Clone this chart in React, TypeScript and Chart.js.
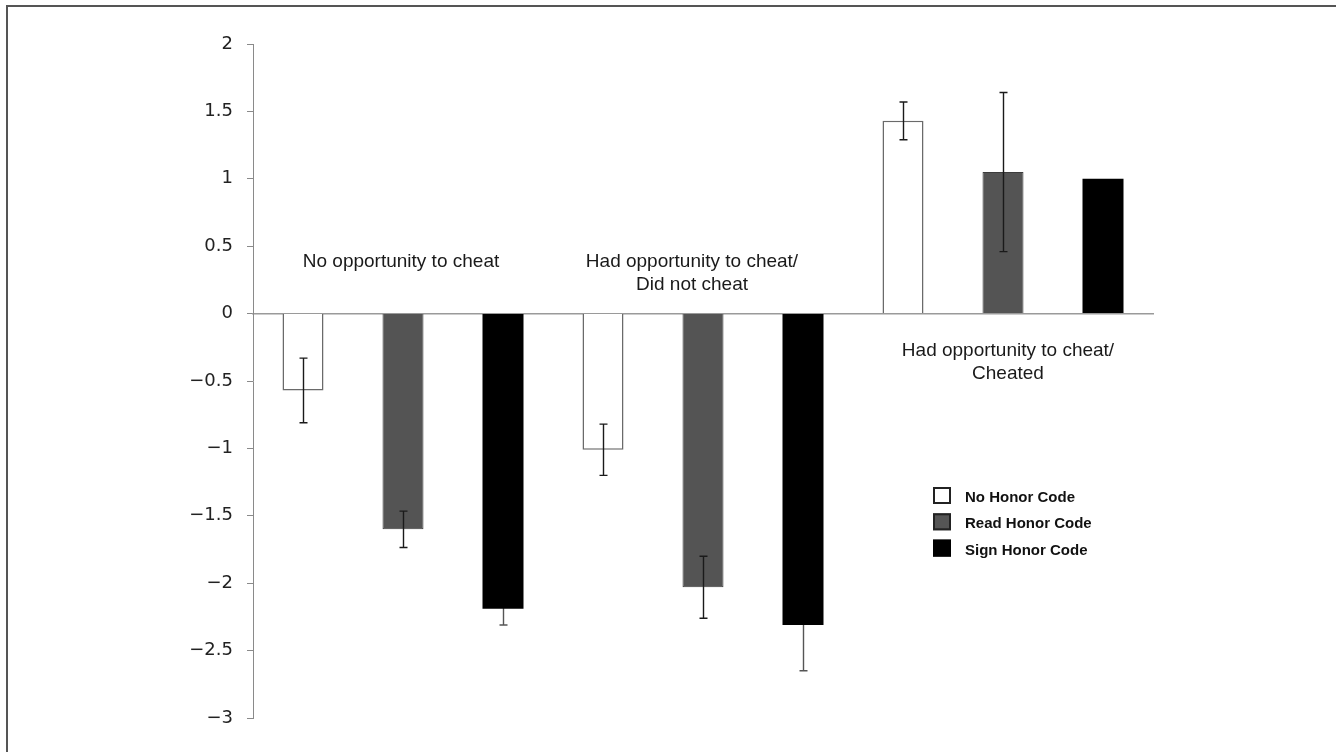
import React, { useEffect, useRef } from "react";
import { Chart, registerables } from "chart.js";

Chart.register(...registerables);

// ---- data ----
const groupLabels: string[][] = [
  ["No opportunity to cheat"],
  ["Had opportunity to cheat/", "Did not cheat"],
  ["Had opportunity to cheat/", "Cheated"],
];
const conditions = ["No Honor Code", "Read Honor Code", "Sign Honor Code"];

const noHonorMeans = [-0.57, -1.01, 1.43];
const readHonorMeans = [-1.6, -2.03, 1.05];
const signHonorMeans = [-2.19, -2.31, 1.0];

const noHonorErr: (number | null)[] = [0.24, 0.19, 0.14];
const readHonorErr: (number | null)[] = [0.135, 0.23, 0.59];
const signHonorErr: (number | null)[] = [0.12, 0.34, null];

const yMin = -3;
const yMax = 2;
const yStep = 0.5;

// ---- styles ----
const barStyles = [
  { backgroundColor: "#ffffff", borderColor: "#6a6a6a", borderWidth: 1.5 },
  { backgroundColor: "#545454", borderColor: "#3c3c3c", borderWidth: 1 },
  { backgroundColor: "#000000", borderColor: "#000000", borderWidth: 0 },
];
// error bars: drawn on top of bars, except for the black series (behind)
const errorStyles = [
  { color: "#1a1a1a", behind: false },
  { color: "#1a1a1a", behind: false },
  { color: "#555555", behind: true },
];
const legendStyles = [
  { fill: "#ffffff", stroke: "#222222" },
  { fill: "#555555", stroke: "#222222" },
  { fill: "#000000", stroke: "#000000" },
];

const means = [noHonorMeans, readHonorMeans, signHonorMeans];
const errs = [noHonorErr, readHonorErr, signHonorErr];

// 9 slots: group g, condition c -> index g*3+c
const categories: string[] = [];
groupLabels.forEach((g) => conditions.forEach((c) => categories.push(g.join(" ") + " – " + c)));

const datasets = conditions.map((label, c) => ({
  label,
  data: categories.map((_, i) => (i % 3 === c ? means[c][Math.floor(i / 3)] : null)),
  errors: categories.map((_, i) => (i % 3 === c ? errs[c][Math.floor(i / 3)] : null)),
  ...barStyles[c],
  grouped: false,
  barPercentage: 0.41,
  categoryPercentage: 1,
}));

function drawErrors(chart: any, behind: boolean) {
  const ctx = chart.ctx;
  const y = chart.scales.y;
  ctx.save();
  ctx.lineWidth = 1.4;
  chart.data.datasets.forEach((ds: any, di: number) => {
    const st = errorStyles[di];
    if (st.behind !== behind) return;
    ctx.strokeStyle = st.color;
    const meta = chart.getDatasetMeta(di);
    ds.data.forEach((v: number | null, i: number) => {
      const e = ds.errors[i];
      if (v == null || e == null) return;
      const el = meta.data[i];
      const x = Math.round(el.x) + 0.5;
      const yt = y.getPixelForValue(v + e);
      const yb = y.getPixelForValue(v - e);
      ctx.beginPath();
      ctx.moveTo(x, yt);
      ctx.lineTo(x, yb);
      ctx.moveTo(x - 4, yt);
      ctx.lineTo(x + 4, yt);
      ctx.moveTo(x - 4, yb);
      ctx.lineTo(x + 4, yb);
      ctx.stroke();
    });
  });
  ctx.restore();
}

const errorBarPlugin = {
  id: "errorBars",
  beforeDatasetsDraw(chart: any) {
    drawErrors(chart, true);
  },
  afterDatasetsDraw(chart: any) {
    drawErrors(chart, false);
  },
};

// group captions, anchored in data coordinates (category index, y value)
const captionAnchors = [
  { x: 0.98, y: 0.346 },
  { x: 3.89, y: 0.346 },
  { x: 7.05, y: -0.316 },
];

const captionPlugin = {
  id: "captions",
  afterDatasetsDraw(chart: any) {
    const ctx = chart.ctx;
    const xs = chart.scales.x;
    const ys = chart.scales.y;
    ctx.save();
    ctx.fillStyle = "#1a1a1a";
    ctx.font = '19px "Liberation Sans", Arial, sans-serif';
    ctx.textAlign = "center";
    ctx.textBaseline = "alphabetic";
    groupLabels.forEach((lines, g) => {
      const a = captionAnchors[g];
      const px = xs.getPixelForValue(a.x);
      const py = ys.getPixelForValue(a.y);
      lines.forEach((t, k) => ctx.fillText(t, px, py + k * 23));
    });
    ctx.restore();
  },
};

const legendPlugin = {
  id: "customLegend",
  afterDraw(chart: any) {
    const ctx = chart.ctx;
    const left = chart.chartArea.left + 680;
    const top = 487;
    ctx.save();
    ctx.font = 'bold 15px "Liberation Sans", Arial, sans-serif';
    ctx.textAlign = "left";
    ctx.textBaseline = "alphabetic";
    chart.data.datasets.forEach((ds: any, i: number) => {
      const by = top + i * 26.3;
      const st = legendStyles[i];
      ctx.fillStyle = st.fill;
      ctx.fillRect(left, by, 18, 17);
      ctx.strokeStyle = st.stroke;
      ctx.lineWidth = 2;
      ctx.strokeRect(left + 1, by + 1, 16, 15);
      ctx.fillStyle = "#111111";
      ctx.fillText(ds.label, left + 32, by + 15);
    });
    ctx.restore();
  },
};

export default function App() {
  const ref = useRef<HTMLCanvasElement | null>(null);
  useEffect(() => {
    if (!ref.current) return;
    const chart = new Chart(ref.current, {
      type: "bar",
      data: { labels: categories, datasets: datasets as any },
      options: {
        animation: false,
        responsive: true,
        maintainAspectRatio: false,
        layout: { padding: { left: 153, right: 183, top: 44, bottom: 34 } },
        plugins: { legend: { display: false }, tooltip: { enabled: false } },
        scales: {
          x: {
            type: "category",
            position: { y: 0 } as any,
            grid: { drawOnChartArea: false, drawTicks: false },
            border: { display: true, color: "#9a9a9a", width: 1.5 },
            ticks: { display: false },
          },
          y: {
            type: "linear",
            min: yMin,
            max: yMax,
            afterFit: (s: any) => {
              s.width = 100;
            },
            grid: { drawOnChartArea: false, drawTicks: true, tickLength: 6, color: "#8a8a8a", lineWidth: 1 },
            border: { display: true, color: "#8a8a8a", width: 1 },
            ticks: {
              stepSize: yStep,
              padding: 14,
              color: "#222222",
              font: { family: '"DejaVu Sans", sans-serif', size: 18 },
              callback: (v: any) => {
                const n = Number(v);
                const s = String(Math.abs(Math.round(n * 10) / 10));
                return n < 0 ? "\u2212" + s : s;
              },
            },
          },
        },
      },
      plugins: [errorBarPlugin, captionPlugin, legendPlugin],
    });
    return () => chart.destroy();
  }, []);

  return (
    <div style={{ position: "absolute", left: 0, top: 0, width: 1336, height: 752, background: "#fff" }}>
      <div
        style={{
          position: "absolute",
          left: 6,
          top: 5,
          right: 0,
          bottom: 0,
          borderTop: "2px solid #555",
          borderLeft: "2px solid #555",
          pointerEvents: "none",
        }}
      />
      <canvas ref={ref} />
    </div>
  );
}
